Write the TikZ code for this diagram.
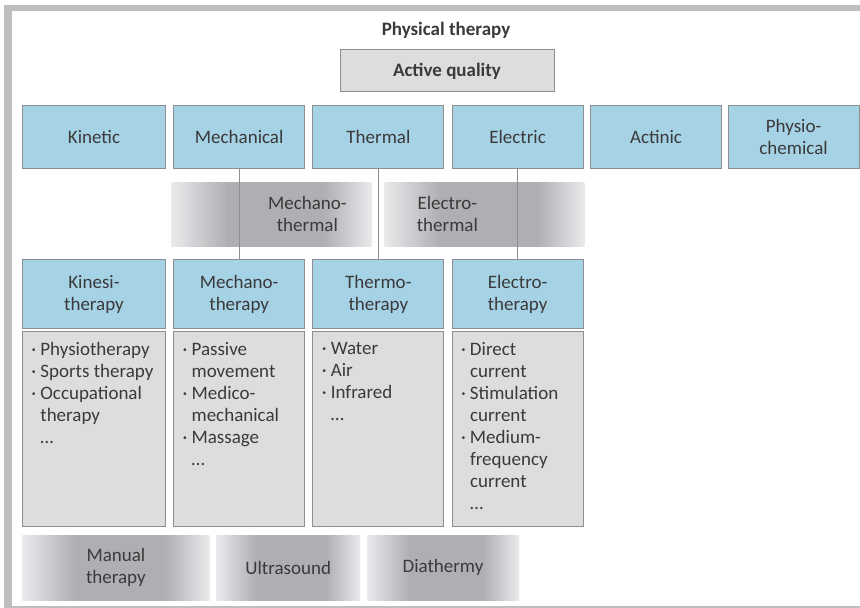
\documentclass[tikz,border=0pt]{standalone}
\usepackage{fontspec}
\setmainfont{Carlito}
\usepackage{tikz}
\usetikzlibrary{positioning}

\definecolor{boxblue}{HTML}{A6D2E6}
\definecolor{boxgray}{HTML}{DCDDDF}
\definecolor{boxline}{HTML}{8C8E90}
\definecolor{txtgray}{HTML}{3A3A3A}
\definecolor{shadelo}{HTML}{E9EAEC}
\definecolor{shadehi}{HTML}{AEAFB2}
\definecolor{framegray}{HTML}{BCBEC0}

% the middle 50bp of the shading is what fills the node
\pgfdeclarehorizontalshading{mixshade}{100bp}{color(0bp)=(shadelo); color(25bp)=(shadelo); color(39bp)=(shadehi); color(63bp)=(shadehi); color(75bp)=(shadelo); color(100bp)=(shadelo)}

\newcommand{\li}{\makebox[4.5pt][l]{·}}
\newcommand{\lc}{\hspace*{4.5pt}}

\begin{document}
\begin{tikzpicture}[x=0.5pt, y=-0.5pt, font=\fontsize{9.5}{11}\selectfont, text=txtgray]
\tikzstyle{quality} = [rectangle, draw=boxline, line width=0.5pt, fill=boxblue, minimum width=65.5pt, minimum height=31.5pt, align=center, inner sep=0pt]
\tikzstyle{therapy} = [quality, minimum height=34.5pt]
\tikzstyle{listbox} = [rectangle, draw=boxline, line width=0.5pt, fill=boxgray, minimum width=65.5pt, minimum height=97.5pt, inner sep=0pt]
\tikzstyle{listtext} = [anchor=north west, align=left, inner xsep=4.5pt, inner ysep=5.5pt]
\tikzstyle{mixbox} = [rectangle, shading=mixshade, minimum height=32pt, align=center, inner sep=0pt]
\tikzstyle{link} = [draw=boxline, line width=0.6pt]

\useasboundingbox (0,0) rectangle (860,608);

% frame
\fill[framegray] (4,5) rectangle (12,607);
\fill[framegray] (4,5) rectangle (860,11);
\fill[framegray] (4,605.5) rectangle (860,607.5);

\node (title) at (446,30) {\bfseries Physical therapy};
\node (active) [rectangle, draw=boxline, line width=0.5pt, fill=boxgray, minimum width=107pt, minimum height=21pt] at (447,71) {\bfseries Active quality};

% active qualities
\node (kinetic) [quality, minimum width=71.5pt, anchor=north west] at (22,105) {Kinetic};
\node (mech) [quality, right=3.6pt of kinetic] {Mechanical};
\node (therm) [quality, right=3.6pt of mech] {Thermal};
\node (elec) [quality, right=3.6pt of therm] {Electric};
\node (actinic) [quality, right=3.2pt of elec] {Actinic};
\node (physio) [quality, right=2.8pt of actinic] {Physio-\\chemical};

% mixed forms
\node (mechtherm) [mixbox, minimum width=100pt, anchor=north west,
  label={[xshift=18pt, align=center]center:Mechano-\\thermal}] at (171,182) {};
\node (electherm) [mixbox, minimum width=100pt, anchor=north west,
  label={[xshift=-18.5pt, align=center]center:Electro-\\thermal}] at (384,182) {};

% therapies
\node (kinesi) [therapy, minimum width=71.5pt, anchor=north west] at (22,259) {Kinesi-\\therapy};
\node (mechano) [therapy, right=3.6pt of kinesi] {Mechano-\\therapy};
\node (thermo) [therapy, right=3.6pt of mechano] {Thermo-\\therapy};
\node (electro) [therapy, right=3.6pt of thermo] {Electro-\\therapy};

\node (kinesilist) [listbox, minimum width=71.5pt, below=1pt of kinesi,
  label={[listtext]north west:\li Physiotherapy\\\li Sports therapy\\\li Occupational\\\lc therapy\\\lc\ldots}] {};
\node (mechanolist) [listbox, below=1pt of mechano,
  label={[listtext]north west:\li Passive\\\lc movement\\\li Medico-\\\lc mechanical\\\li Massage\\\lc\ldots}] {};
\node (thermolist) [listbox, below=1pt of thermo,
  label={[listtext]north west:\li Water\\\li Air\\\li Infrared\\\lc\ldots}] {};
\node (electrolist) [listbox, below=1pt of electro,
  label={[listtext]north west:\li Direct\\\lc current\\\li Stimulation\\\lc current\\\li Medium-\\\lc frequency\\\lc current\\\lc\ldots}] {};

% cross-cutting methods
\node (manual) [mixbox, minimum width=93.5pt, minimum height=32.5pt, anchor=north west] at (22,535) {Manual\\therapy};
\node (ultra) [mixbox, minimum width=72pt, minimum height=32.5pt, right=3pt of manual] {Ultrasound};
\node (dia) [mixbox, minimum width=76pt, minimum height=32.5pt, right=3pt of ultra] {Diathermy};

\draw [link] (mech) -- (mechano);
\draw [link] (therm) -- (thermo);
\draw [link] (elec) -- (electro);

\end{tikzpicture}
\end{document}
